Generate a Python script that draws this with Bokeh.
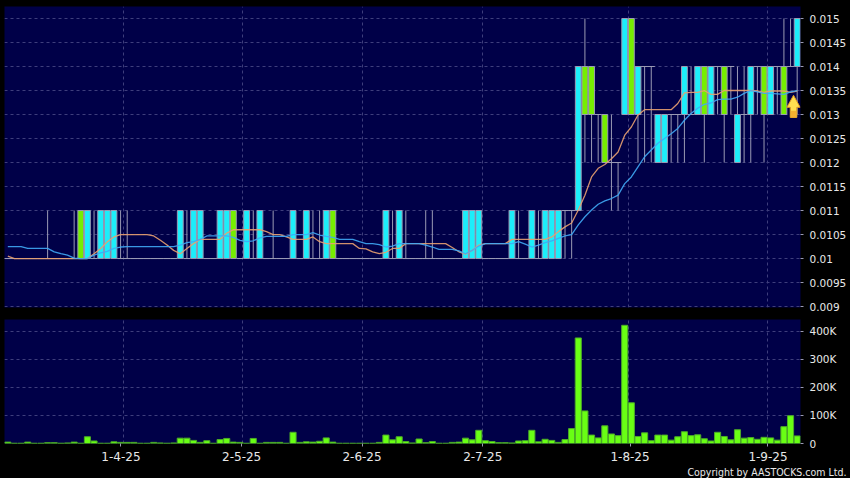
from bokeh.plotting import figure
from bokeh.layouts import column
from bokeh.models import (Range1d, LinearAxis, FixedTicker, Grid, Title,
                          ColumnDataSource, GlobalInlineStyleSheet)
from bokeh.embed import file_html
from bokeh.resources import INLINE

open_ = [.01,.01,.01,.01,.01,.01,.01,.01,.01,.01,
 .01,.011,.01,.01,.01,.01,.01,.01,.01,.01,
 .01,.01,.01,.01,.01,.01,.01,.01,.01,.01,
 .01,.01,.01,.01,.011,.01,.01,.01,.01,.01,
 .01,.01,.01,.01,.01,.01,.01,.01,.01,.011,
 .01,.01,.01,.01,.01,.01,.01,.01,.01,.01,
 .01,.01,.01,.01,.01,.01,.01,.01,.01,.01,
 .01,.01,.01,.01,.01,.01,.01,.01,.01,.01,
 .01,.01,.01,.01,.011,.011,.011,.014,.014,.013,
 .013,.012,.012,.013,.015,.013,.014,.014,.012,.012,
 .013,.013,.013,.013,.013,.014,.013,.014,.014,.014,
 .012,.013,.013,.014,.014,.013,.014,.014,.014,.014]
close = [.01,.01,.01,.01,.01,.01,.01,.01,.01,.01,
 .01,.01,.011,.01,.011,.011,.011,.01,.01,.01,
 .01,.01,.01,.01,.01,.01,.011,.01,.011,.011,
 .01,.01,.011,.011,.01,.01,.011,.01,.011,.01,
 .01,.01,.01,.011,.01,.011,.01,.01,.011,.01,
 .01,.01,.01,.01,.01,.01,.01,.011,.01,.011,
 .01,.01,.01,.01,.01,.01,.01,.01,.01,.011,
 .011,.011,.01,.01,.01,.01,.011,.01,.01,.011,
 .01,.011,.011,.011,.011,.011,.014,.013,.013,.013,
 .012,.012,.012,.015,.013,.014,.014,.014,.013,.013,
 .013,.013,.014,.013,.014,.013,.014,.014,.013,.014,
 .013,.013,.014,.014,.013,.014,.014,.013,.014,.015]
high = [.01,.01,.01,.01,.01,.01,.011,.01,.01,.01,
 .011,.011,.011,.011,.011,.011,.011,.011,.011,.01,
 .01,.01,.01,.01,.01,.01,.011,.011,.011,.011,
 .01,.01,.011,.011,.011,.01,.011,.011,.011,.01,
 .011,.01,.01,.011,.01,.011,.011,.011,.011,.011,
 .01,.01,.01,.01,.01,.01,.01,.011,.011,.011,
 .011,.01,.01,.011,.011,.01,.01,.01,.01,.011,
 .011,.011,.01,.01,.01,.01,.011,.011,.01,.011,
 .011,.011,.011,.011,.011,.011,.014,.015,.014,.013,
 .013,.013,.012,.015,.015,.014,.014,.014,.013,.013,
 .013,.013,.014,.014,.014,.014,.014,.014,.014,.014,
 .014,.014,.014,.014,.014,.014,.014,.015,.015,.015]
low = [.01,.01,.01,.01,.01,.01,.01,.01,.01,.01,
 .01,.01,.01,.01,.01,.01,.01,.01,.01,.01,
 .01,.01,.01,.01,.01,.01,.01,.01,.01,.01,
 .01,.01,.01,.01,.01,.01,.01,.01,.01,.01,
 .01,.01,.01,.01,.01,.01,.01,.01,.01,.01,
 .01,.01,.01,.01,.01,.01,.01,.01,.01,.01,
 .01,.01,.01,.01,.01,.01,.01,.01,.01,.01,
 .01,.01,.01,.01,.01,.01,.01,.01,.01,.01,
 .01,.01,.01,.01,.01,.01,.011,.012,.012,.012,
 .012,.011,.011,.013,.013,.012,.012,.012,.012,.012,
 .012,.012,.012,.013,.013,.012,.013,.013,.012,.013,
 .012,.012,.012,.013,.012,.013,.013,.013,.014,.013]
volume_k = [5,1,1,5,1,1,3,3,1,2,
 5,1,24,9,1,1,6,4,4,4,
 1,1,4,2,1,2,19,19,11,4,
 10,1,14,18,5,4,1,18,1,4,
 4,4,1,40,4,6,5,8,20,5,
 1,1,1,1,1,1,4,30,13,24,
 7,2,16,3,7,1,1,4,5,19,
 13,47,10,7,3,3,2,9,10,47,
 6,15,11,4,14,53,376,116,30,20,
 63,34,28,421,145,25,38,10,30,30,
 12,24,42,28,31,17,9,40,25,13,
 49,19,21,15,22,20,12,60,99,27]
ma_short = [.01005,.01,.01,.01,.01,.01,.01,.01,.01,.01,
 .01,.01,.01,.0101,.01021,.01035,.01045,.0105,.0105,.0105,
 .0105,.0105,.01047,.01038,.01028,.01017,.0101,.01021,.01031,.0104,
 .0104,.0104,.0104,.01053,.0106,.0106,.0106,.0106,.0106,.01056,
 .0105,.0105,.01045,.0104,.0104,.0104,.01045,.01035,.01031,.01031,
 .01031,.01031,.01031,.01021,.0102,.01014,.0101,.01013,.01021,.01021,
 .01031,.01031,.01031,.01031,.01031,.01031,.01031,.01023,.01014,.01009,
 .01017,.01028,.01031,.01031,.01031,.01031,.0104,.0104,.0104,.0104,
 .0104,.0104,.01045,.01056,.01066,.01074,.01101,.01132,.0117,.01188,
 .01196,.01208,.01222,.01257,.01274,.01299,.0131,.0131,.0131,.0131,
 .0131,.01323,.01345,.01346,.01346,.0135,.01342,.01342,.0135,.0135,
 .0135,.0135,.0135,.01349,.01346,.01349,.01349,.01349,.01346,.01349]
ma_long = [.01025,.01025,.01025,.01021,.01021,.01021,.01021,.01014,.0101,.01007,
 .01001,.01,.01,.01007,.01012,.01015,.01021,.01024,.01025,.01025,
 .01025,.01025,.01025,.01025,.01025,.01025,.01028,.01033,.01035,.0104,
 .01047,.01047,.01047,.01047,.01044,.01038,.01035,.01037,.01043,.01046,
 .01046,.01046,.01046,.0105,.0105,.0105,.01054,.01049,.01046,.01044,
 .0104,.0104,.0104,.01035,.01031,.01031,.01029,.01024,.01026,.01031,
 .01031,.01031,.01031,.01028,.01024,.01019,.01019,.01019,.01016,.0101,
 .01017,.01026,.01031,.01031,.01031,.01031,.01031,.01035,.0103,.01024,
 .01028,.01033,.01037,.01042,.01047,.0105,.0107,.01087,.01101,.01113,
 .0112,.01125,.01132,.01156,.0117,.01191,.01212,.01226,.0124,.0125,
 .0126,.01271,.01288,.01302,.01313,.01321,.01324,.01331,.01332,.01332,
 .01336,.01344,.0135,.01347,.01344,.01344,.01343,.01342,.01347,.0135]
price_ticks = [.009,.0095,.01,.0105,.011,.0115,.012,.0125,.013,.0135,.014,.0145,.015]
price_labels = ["0.009","0.0095","0.01","0.0105","0.011","0.0115","0.012","0.0125","0.013","0.0135","0.014","0.0145","0.015"]
volume_ticks = [0,100,200,300,400]
volume_labels = ["0","100K","200K","300K","400K"]
date_ticks = [17.05,35.25,53.4,71.6,93.8,114.6]
date_labels = ["1-4-25","2-5-25","2-6-25","2-7-25","1-8-25","1-9-25"]
date_grid = [17.5,35.4,53.5,71.5,93.6,114.5]

BG, PANEL = "#000000", "#000048"
CYAN, GREEN = "#1ceefa", "#76ee00"
EDGE, GRIDC = "#9a9ab4", "#3e3e7c"
WHITE = "#e8e8e8"
FONT = "DejaVu Sans"

x = list(range(len(close)))
x_range = Range1d(-0.5, 119.5)

def base(height, top, bottom, y_range):
    f = figure(width=850, height=height, x_range=x_range, y_range=y_range,
               x_axis_type=None, y_axis_type=None, toolbar_location=None,
               output_backend="svg", background_fill_color=PANEL,
               border_fill_color=BG, outline_line_color=None,
               min_border_left=4, min_border_right=50,
               min_border_top=top, min_border_bottom=bottom)
    f.stylesheets = [GlobalInlineStyleSheet(css="html,body{margin:0;padding:0;background:#000;overflow:hidden}")]
    return f

def spacer(size):
    return LinearAxis(ticker=FixedTicker(ticks=[]), axis_line_color=None,
                      major_tick_line_color=None, minor_tick_line_color=None,
                      major_tick_out=size, major_tick_in=0, major_label_text_font_size="0px",
                      major_label_standoff=0)

def value_axis(f, ticks, labels):
    f.add_layout(spacer(4), "right")
    ax = LinearAxis(ticker=FixedTicker(ticks=ticks),
                    major_label_overrides=dict(zip(ticks, labels)),
                    axis_line_color=None, minor_tick_line_color=None,
                    major_tick_line_color=EDGE, major_tick_in=0, major_tick_out=3,
                    major_label_standoff=6, major_label_text_color=WHITE,
                    major_label_text_font=FONT, major_label_text_font_size="10.5px")
    f.add_layout(ax, "right")
    for dim, t in ((0, date_grid), (1, ticks)):
        f.add_layout(Grid(dimension=dim, ticker=FixedTicker(ticks=t),
                          grid_line_color=GRIDC, grid_line_dash="3 3", grid_line_width=1))

# price panel
p1 = base(315, 6, 8, Range1d(.00898, .01525))
value_axis(p1, price_ticks, price_labels)
tops = [max(a, b) for a, b in zip(open_, close)]
bots = [min(a, b) for a, b in zip(open_, close)]
cols = [CYAN if b > a else GREEN if b < a else EDGE for a, b in zip(open_, close)]
wid = [0.88 if a != b else 1.0 for a, b in zip(open_, close)]
src = ColumnDataSource(dict(x=x, o=open_, c=close, h=high, l=low, top=tops, bot=bots, col=cols, w=wid))
p1.segment("x", "l", "x", "h", source=src, line_color=EDGE, line_width=1)
p1.vbar("x", width="w", top="top", bottom="bot", source=src, fill_color="col", line_color=EDGE, line_width=1)
p1.line(x, ma_short, line_color="#e8a070", line_width=1.3, line_alpha=0.9)
p1.line(x, ma_long, line_color="#3fa9f5", line_width=1.3, line_alpha=0.9)

# latest-price marker
ax_ = x[-1] - 0.55
p1.patch([ax_, ax_ + 1.0, ax_ + .5, ax_ + .5, ax_ - .5, ax_ - .5, ax_ - 1.0],
         [.0134, .01315, .01315, .01294, .01294, .01315, .01315],
         fill_color="#ffe050", line_color="#e09a20", line_width=1)
p1.patch([ax_ - .42, ax_ + .42, ax_ + .42, ax_ - .42],
         [.01294, .01294, .01308, .01308], fill_color="#f5b030", line_color=None)

# volume panel
p2 = base(163, 4, 35, Range1d(0, 441.7))
value_axis(p2, volume_ticks, volume_labels)
p2.vbar(x, width=0.92, top=volume_k, bottom=0, fill_color="#69ff14", line_color="#4caa28", line_width=1)
p2.add_layout(spacer(3), "below")
p2.add_layout(LinearAxis(ticker=FixedTicker(ticks=date_ticks),
                         major_label_overrides=dict(zip(date_ticks, date_labels)),
                         axis_line_color=None, minor_tick_line_color=None,
                         major_tick_line_color=EDGE, major_tick_in=0, major_tick_out=3,
                         major_label_standoff=5, major_label_text_color=WHITE,
                         major_label_text_font=FONT, major_label_text_font_size="12px"), "below")
p2.add_layout(Title(text="Copyright by AASTOCKS.com Ltd.", align="right", offset=-46, standoff=0,
                    text_color=WHITE, text_font="DejaVu Sans Condensed", text_font_size="10.5px",
                    text_font_style="normal"), "below")

page = column(p1, p2, spacing=0)
open("out.html", "w").write(file_html(page, INLINE))
